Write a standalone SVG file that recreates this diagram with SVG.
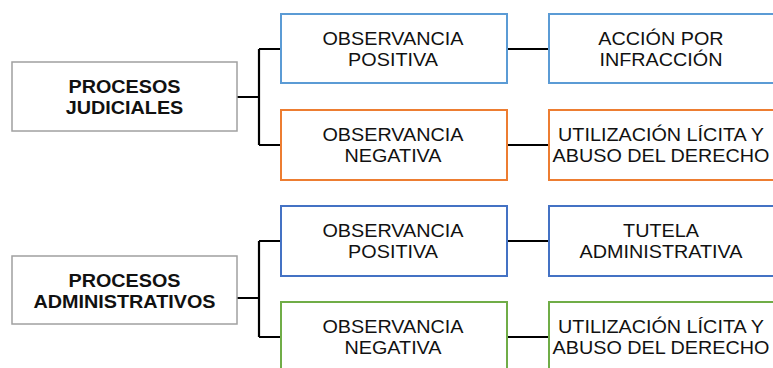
<svg xmlns="http://www.w3.org/2000/svg" width="773" height="368" viewBox="0 0 773 368">
<style>
rect{fill:#fff;stroke-width:2}
.g{stroke:#A0A0A0;stroke-width:1.5}
.lb{stroke:#5B9BD5}
.or{stroke:#ED7D31}
.db{stroke:#4472C4}
.gr{stroke:#70AD47}
text{font-family:"Liberation Sans",Arial,sans-serif;font-size:18.5px;text-anchor:middle;fill:#111}
.b{font-weight:bold}
.c{fill:none;stroke:#000;stroke-width:2.2}
</style>
<rect width="773" height="368" fill="#fff" stroke="none"/>
<g id="connectors">
<path class="c" d="M237 97H259M259 49V145M259 49H281M259 145H281"/>
<path class="c" d="M507 49H549M507 145H549"/>
<path class="c" d="M237 298H259M259 241V337M259 241H281M259 337H281"/>
<path class="c" d="M507 241H549M507 337H549"/>
</g>
<g id="judiciales"><rect class="g" x="12" y="62" width="225" height="69"/><g transform="translate(124.5 0) scale(1.07 1)"><text class="b" x="0" y="93">PROCESOS</text><text class="b" x="0" y="114">JUDICIALES</text></g></g>
<g id="pos1"><rect class="lb" x="281" y="14" width="226" height="69"/><g transform="translate(393 0) scale(1.07 1)"><text x="0" y="45">OBSERVANCIA</text><text x="0" y="66">POSITIVA</text></g></g>
<g id="neg1"><rect class="or" x="281" y="110" width="226" height="70"/><g transform="translate(393 0) scale(1.07 1)"><text x="0" y="141.5">OBSERVANCIA</text><text x="0" y="162.5">NEGATIVA</text></g></g>
<g id="accion"><rect class="lb" x="549" y="14" width="240" height="69"/><g transform="translate(661 0) scale(1.07 1)"><text x="0" y="45">ACCIÓN POR</text><text x="0" y="66">INFRACCIÓN</text></g></g>
<g id="util1"><rect class="or" x="549" y="110" width="240" height="70"/><g transform="translate(661 0) scale(1.07 1)"><text x="0" y="141.5">UTILIZACIÓN LÍCITA Y</text><text x="0" y="162.5">ABUSO DEL DERECHO</text></g></g>
<g id="administrativos"><rect class="g" x="12" y="256" width="225" height="68"/><g transform="translate(124.5 0) scale(1.07 1)"><text class="b" x="0" y="287">PROCESOS</text><text class="b" x="0" y="308">ADMINISTRATIVOS</text></g></g>
<g id="pos2"><rect class="db" x="281" y="206" width="226" height="70"/><g transform="translate(393 0) scale(1.07 1)"><text x="0" y="237.5">OBSERVANCIA</text><text x="0" y="258.5">POSITIVA</text></g></g>
<g id="neg2"><rect class="gr" x="281" y="302" width="226" height="70"/><g transform="translate(393 0) scale(1.07 1)"><text x="0" y="333.5">OBSERVANCIA</text><text x="0" y="354.5">NEGATIVA</text></g></g>
<g id="tutela"><rect class="db" x="549" y="206" width="240" height="70"/><g transform="translate(661 0) scale(1.07 1)"><text x="0" y="237.5">TUTELA</text><text x="0" y="258.5">ADMINISTRATIVA</text></g></g>
<g id="util2"><rect class="gr" x="549" y="302" width="240" height="70"/><g transform="translate(661 0) scale(1.07 1)"><text x="0" y="333.5">UTILIZACIÓN LÍCITA Y</text><text x="0" y="354.5">ABUSO DEL DERECHO</text></g></g>
</svg>
